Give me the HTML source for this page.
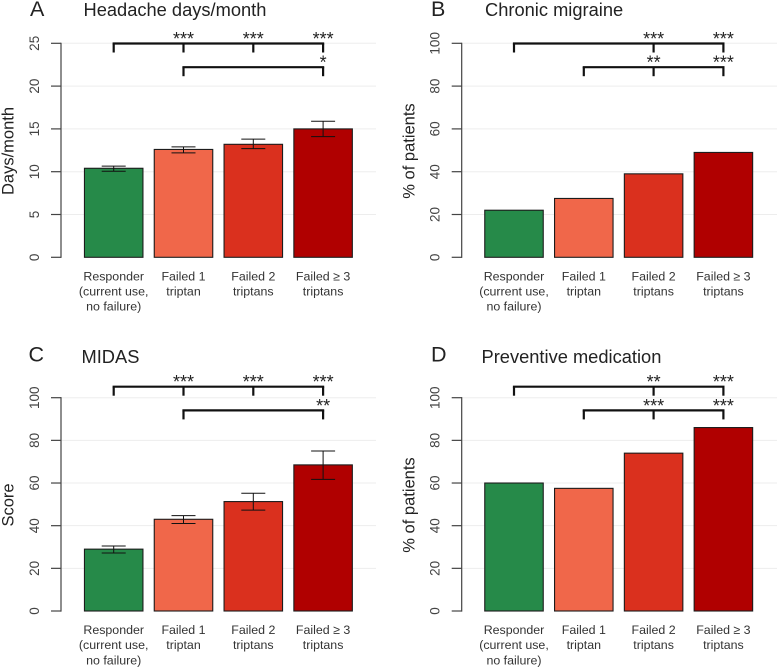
<!DOCTYPE html>
<html>
<head>
<meta charset="utf-8">
<title>Triptan failure bar charts</title>
<style>
html,body{margin:0;padding:0;background:#fff;}
svg{display:block;font-family:"Liberation Sans",sans-serif;}
</style>
</head>
<body>
<svg id="chart" xmlns="http://www.w3.org/2000/svg" width="777" height="668" viewBox="0 0 777 668"></svg>
<script>
const categories = [
  ["Responder", "(current use,", "no failure)"],
  ["Failed 1", "triptan"],
  ["Failed 2", "triptans"],
  ["Failed \u2265 3", "triptans"]
];
const barColors = ["#268a49", "#f0674a", "#da301e", "#b00000"];

const headacheValues = [10.4, 12.6, 13.2, 15.0];
const headacheLow = [10.05, 12.2, 12.7, 14.1];
const headacheHigh = [10.65, 12.9, 13.8, 15.9];
const headacheTicks = [0, 5, 10, 15, 20, 25];
const headacheBrackets = [
  {from: 0, to: 3, level: 0, marks: [[1, "***"], [2, "***"], [3, "***"]]},
  {from: 1, to: 3, level: 1, marks: [[3, "*"]]}
];

const chronicValues = [22, 27.5, 39, 49];
const chronicTicks = [0, 20, 40, 60, 80, 100];
const chronicBrackets = [
  {from: 0, to: 3, level: 0, marks: [[2, "***"], [3, "***"]]},
  {from: 1, to: 3, level: 1, marks: [[2, "**"], [3, "***"]]}
];

const midasValues = [29, 43, 51.3, 68.5];
const midasLow = [27.2, 41, 47.3, 61.7];
const midasHigh = [30.5, 44.7, 55.2, 75];
const midasTicks = [0, 20, 40, 60, 80, 100];
const midasBrackets = [
  {from: 0, to: 3, level: 0, marks: [[1, "***"], [2, "***"], [3, "***"]]},
  {from: 1, to: 3, level: 1, marks: [[3, "**"]]}
];

const preventiveValues = [60, 57.5, 74, 86];
const preventiveTicks = [0, 20, 40, 60, 80, 100];
const preventiveBrackets = [
  {from: 0, to: 3, level: 0, marks: [[2, "**"], [3, "***"]]},
  {from: 1, to: 3, level: 1, marks: [[2, "***"], [3, "***"]]}
];

const panels = [
  {key: "headache", letter: "A", title: "Headache days/month", yTitle: "Days/month", values: headacheValues, low: headacheLow, high: headacheHigh, ticks: headacheTicks, brackets: headacheBrackets,
   axisX: 61, firstX: 113.7, y0: 257.3, yTop: 43.3, gridEnd: 376, bracketTop: 43.5, letterX: 30, letterY: 16, titleX: 83.5, titleY: 16, yTitleX: 13.5, yTitleY: 151},
  {key: "chronic", letter: "B", title: "Chronic migraine", yTitle: "% of patients", values: chronicValues, low: null, high: null, ticks: chronicTicks, brackets: chronicBrackets,
   axisX: 461.7, firstX: 514, y0: 257.3, yTop: 43.3, gridEnd: 777, bracketTop: 43.5, letterX: 431, letterY: 16, titleX: 485, titleY: 16, yTitleX: 414.5, yTitleY: 151},
  {key: "midas", letter: "C", title: "MIDAS", yTitle: "Score", values: midasValues, low: midasLow, high: midasHigh, ticks: midasTicks, brackets: midasBrackets,
   axisX: 61, firstX: 113.7, y0: 611, yTop: 397.7, gridEnd: 376, bracketTop: 386.7, letterX: 28.5, letterY: 361.5, titleX: 81.5, titleY: 363, yTitleX: 13.5, yTitleY: 505},
  {key: "preventive", letter: "D", title: "Preventive medication", yTitle: "% of patients", values: preventiveValues, low: null, high: null, ticks: preventiveTicks, brackets: preventiveBrackets,
   axisX: 461.7, firstX: 514, y0: 611, yTop: 397.7, gridEnd: 777, bracketTop: 386.7, letterX: 431, letterY: 361.5, titleX: 481.5, titleY: 363, yTitleX: 414.5, yTitleY: 505}
];

const barStep = 69.8;
const barWidth = 58.5;
const capHalf = 12;
const levelGap = 23.7;
const bracketDrop = 9;

const svg = document.getElementById("chart");
const NS = "http://www.w3.org/2000/svg";

function add(parent, tag, attrs, text) {
  const el = document.createElementNS(NS, tag);
  for (const k in attrs) el.setAttribute(k, attrs[k]);
  if (text !== undefined) el.textContent = text;
  parent.appendChild(el);
  return el;
}

panels.forEach(function (p) {
  const maxTick = Math.max.apply(null, p.ticks);
  const yScale = function (v) { return p.y0 - (v / maxTick) * (p.y0 - p.yTop); };
  const xScale = function (i) { return p.firstX + i * barStep; };

  const g = add(svg, "g", {});
  
  

  const letter = add(g, "text", {x: p.letterX, y: p.letterY, "font-size": 21.5, fill: "#222"}, p.letter);
  
  

  const title = add(g, "text", {x: p.titleX, y: p.titleY, "font-size": 18.3, fill: "#222"}, p.title);
  
  

  const yTitle = add(g, "text", {x: p.yTitleX, y: p.yTitleY, "font-size": 16.5, fill: "#222", "text-anchor": "middle", transform: "rotate(-90 " + p.yTitleX + " " + p.yTitleY + ")"}, p.yTitle);
  
  

  p.ticks.forEach(function (t) {
    const y = yScale(t);
    if (t !== 0) {
      const grid = add(g, "line", {x1: p.axisX, x2: p.gridEnd, y1: y, y2: y, stroke: "#ededed", "stroke-width": 1});
      
      
    }
    const tick = add(g, "line", {x1: p.axisX - 10, x2: p.axisX, y1: y, y2: y, stroke: "#444", "stroke-width": 1.2});
    
    
    const lx = p.axisX - 22;
    const label = add(g, "text", {x: lx, y: y, "font-size": 13.5, fill: "#444", "text-anchor": "middle", transform: "rotate(-90 " + lx + " " + y + ")"}, String(t));
    
    
  });

  const axis = add(g, "line", {x1: p.axisX, x2: p.axisX, y1: p.yTop - 0.6, y2: p.y0 + 0.6, stroke: "#444", "stroke-width": 1.2});
  
  

  p.values.forEach(function (v, i) {
    const cx = xScale(i);
    const top = yScale(v);
    const bar = add(g, "rect", {x: cx - barWidth / 2, y: top, width: barWidth, height: p.y0 - top, fill: barColors[i], stroke: "#1c1c1c", "stroke-width": 1.1});
    
    

    if (p.low && p.high) {
      const yl = yScale(p.low[i]);
      const yh = yScale(p.high[i]);
      const err = add(g, "path", {d: "M" + (cx - capHalf) + " " + yh + "H" + (cx + capHalf) + "M" + cx + " " + yh + "V" + yl + "M" + (cx - capHalf) + " " + yl + "H" + (cx + capHalf), fill: "none", stroke: "#111", "stroke-width": 1});
      
      
    }

    categories[i].forEach(function (line, n) {
      const base = p.y0 + 23 + n * 15.2;
      const lab = add(g, "text", {x: cx, y: base, "font-size": 12.4, fill: "#333", "text-anchor": "middle"}, line);
      
      
    });
  });

  p.brackets.forEach(function (b) {
    const y = p.bracketTop + b.level * levelGap;
    const line = add(g, "line", {x1: xScale(b.from) - 1.1, x2: xScale(b.to) + 1.1, y1: y, y2: y, stroke: "#111", "stroke-width": 2.2});
    
    

    const drops = [b.from].concat(b.marks.map(function (m) { return m[0]; }));
    drops.forEach(function (d) {
      const x = xScale(d);
      const drop = add(g, "line", {x1: x, x2: x, y1: y, y2: y + bracketDrop, stroke: "#111", "stroke-width": 2.2});
      
      
    });

    b.marks.forEach(function (m) {
      const star = add(g, "text", {x: xScale(m[0]), y: y + 1.5, "font-size": 18, fill: "#222", "text-anchor": "middle"}, m[1]);
      
      
    });
  });
});
</script>
</body>
</html>
